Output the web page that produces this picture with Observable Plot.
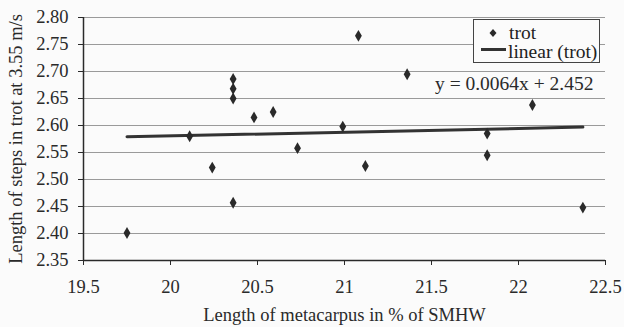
<!DOCTYPE html>
<html>
<head>
<meta charset="utf-8">
<script src="https://cdn.jsdelivr.net/npm/d3@7"></script>
<script src="https://cdn.jsdelivr.net/npm/@observablehq/plot@0.6"></script>
<style>
  html, body { margin: 0; padding: 0; background: #fbfbfb; }
  #wrap { position: relative; width: 624px; height: 327px; font-family: "Liberation Serif", "Times New Roman", serif; }
  #legend { position: absolute; left: 473px; top: 19px; width: 127px; height: 44px; border: 1px solid #444; background: #fbfbfb; font-size: 19.5px; color: #222; box-sizing: border-box; }
  #legend .row { position: absolute; height: 21px; line-height: 21px; white-space: nowrap; }
  #legend .sym { position: absolute; }
</style>
</head>
<body>
<div id="wrap"></div>
<script>
// Data: metacarpus length (% of SMHW) vs. step length in trot (m/s)
const metacarpus = [19.75, 20.11, 20.24, 20.36, 20.36, 20.36, 20.36, 20.48, 20.59, 20.73, 20.99, 21.08, 21.12, 21.36, 21.82, 21.82, 22.08, 22.37];
const stepLength = [2.401, 2.580, 2.522, 2.686, 2.668, 2.650, 2.457, 2.615, 2.625, 2.558, 2.598, 2.766, 2.525, 2.695, 2.585, 2.545, 2.638, 2.448];
// Linear trend line endpoints (as drawn)
const trendX = [19.75, 22.37];
const trendY = [2.579, 2.597];
const xTicks = [19.5, 20, 20.5, 21, 21.5, 22, 22.5];
const yTicks = [2.35, 2.40, 2.45, 2.50, 2.55, 2.60, 2.65, 2.70, 2.75, 2.80];
const equation = "y = 0.0064x + 2.452";
const seriesName = "trot";
const trendName = "linear (trot)";
const xLabel = "Length of metacarpus in % of SMHW";
const yLabel = "Length of steps in trot at 3.55 m/s";

const points = metacarpus.map((x, i) => ({x, y: stepLength[i]}));
const trend = trendX.map((x, i) => ({x, y: trendY[i]}));

const ink = "#2a2a2a";
const chart = Plot.plot({
  width: 624,
  height: 327,
  marginLeft: 83,
  marginRight: 19,
  marginTop: 17,
  marginBottom: 67,
  style: {fontFamily: "'Liberation Serif', 'Times New Roman', serif", fontSize: "18px", color: ink, background: "#fbfbfb"},
  x: {domain: [19.5, 22.5]},
  y: {domain: [2.35, 2.80]},
  marks: [
    Plot.ruleY(yTicks.slice(1), {stroke: "#9a9a9a", strokeWidth: 1}),
    Plot.axisY({ticks: yTicks, tickFormat: d => d.toFixed(2), tickSize: 5, tickPadding: 10, stroke: ink, label: yLabel, labelAnchor: "center", labelOffset: 75, labelArrow: false, fontSize: 18.5}),
    Plot.axisX({ticks: xTicks, tickFormat: d => String(d), tickSize: 5, tickPadding: 14, stroke: ink, label: xLabel, labelAnchor: "center", labelOffset: 60, labelArrow: false, fontSize: 18.5}),
    Plot.ruleX([19.5], {stroke: ink, strokeWidth: 1.5}),
    Plot.ruleY([2.35], {stroke: ink, strokeWidth: 1.5}),
    Plot.line(trend, {x: "x", y: "y", stroke: "#333", strokeWidth: 3}),
    Plot.dot(points, {x: "x", y: "y", symbol: "diamond", r: 3.6, fill: "#2a2a2a", stroke: "none"}),
    Plot.text([equation], {frameAnchor: "top-right", dx: -12, dy: 59, textAnchor: "end", fontSize: 19.5, fill: ink})
  ]
});
const wrap = document.getElementById("wrap");
wrap.appendChild(chart);

const legend = document.createElement("div");
legend.id = "legend";
legend.innerHTML = `
  <svg class="sym" style="left:0;top:0" width="34" height="44">
    <path d="M19,9 L22.5,13 L19,17 L15.5,13 Z" fill="#2a2a2a"/>
    <line x1="7" x2="32" y1="29.5" y2="29.5" stroke="#333" stroke-width="3"/>
  </svg>
  <div class="row" style="top:2px;left:35px;">${seriesName}</div>
  <div class="row" style="top:21px;left:34px;">${trendName}</div>`;
wrap.appendChild(legend);
</script>
</body>
</html>
